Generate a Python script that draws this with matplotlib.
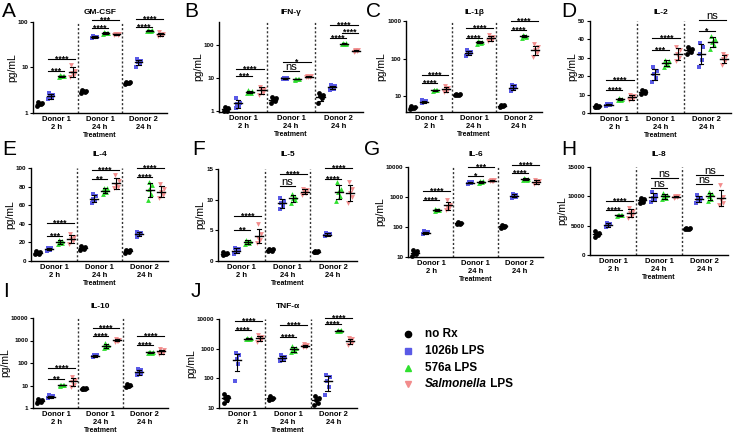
import numpy as np
import matplotlib
matplotlib.use('Agg')
import matplotlib.pyplot as plt
from matplotlib.ticker import NullLocator

plt.rcParams['font.family'] = ['Liberation Sans', 'DejaVu Sans']

# ---------------------------------------------------------------------------
# data: 12 conditions per panel, order = group (D1 2h, D1 24h, D2 24h) x
# treatment (no Rx, 1026b, 576a, Salmonella); 5 replicates each
# ---------------------------------------------------------------------------
groups = ['Donor 1\n2 h', 'Donor 1\n24 h', 'Donor 2\n24 h']
treatments = ['no Rx', '1026b LPS', '576a LPS', 'Salmonella LPS']

gm_csf = [[1.45, 1.55, 1.6, 1.65, 1.75], [2.0, 2.2, 2.3, 2.5, 2.8], [6.3, 6.4, 6.5, 6.5, 6.7], [6.3, 6.8, 7.4, 8.5, 11.5],
          [2.8, 2.9, 3.0, 3.05, 3.2], [44, 46, 47, 48, 50], [54, 56, 57, 58, 60], [52, 53, 53.5, 54, 55],
          [4.3, 4.5, 4.6, 4.7, 4.9], [10.5, 12, 13, 14, 15.5], [63, 64, 65, 66, 67], [49, 51, 53, 55, 60]]
ifn_g = [[0.97, 1.0, 1.1, 1.2, 1.3], [1.2, 1.4, 1.6, 1.8, 2.5], [3.4, 3.6, 3.8, 4.0, 4.2], [3.0, 3.6, 4.2, 4.8, 5.5],
         [1.8, 2.0, 2.2, 2.4, 2.7], [9.3, 9.6, 9.8, 10.0, 10.3], [9.0, 9.2, 9.3, 9.4, 9.6], [10.5, 10.8, 11.0, 11.3, 11.8],
         [1.8, 2.4, 2.8, 3.1, 3.5], [4.3, 4.8, 5.2, 5.6, 6.0], [105, 108, 110, 112, 115], [63, 66, 68, 70, 73]]
il_1b = [[4.6, 4.8, 5.0, 5.2, 5.5], [6.5, 6.8, 7.0, 7.3, 7.8], [14, 14.3, 14.5, 14.7, 15], [13, 14, 15, 16.5, 18.5],
         [10.5, 10.8, 11, 11.2, 11.5], [120, 130, 140, 150, 165], [250, 260, 270, 280, 290], [290, 320, 350, 380, 420],
         [5.2, 5.4, 5.6, 5.8, 6.0], [14, 15.5, 17, 18.5, 20], [360, 375, 390, 405, 420], [110, 140, 170, 200, 240]]
il_2 = [[3.0, 3.3, 3.5, 3.8, 4.2], [4.0, 4.3, 4.5, 4.7, 5.0], [7.0, 7.3, 7.5, 7.7, 8.0], [7.0, 7.8, 8.5, 9.2, 10.0],
        [10.5, 11, 11.5, 12, 12.5], [17, 19, 21, 23, 25], [25, 26, 27, 28, 29], [28, 30, 32, 34, 36],
        [32, 33, 34, 35, 36], [25, 29, 32, 36, 38], [35, 37, 38.5, 40, 42], [26, 28, 29.5, 31, 32]]
il_4 = [[7, 8, 9, 10, 10.5], [11, 12, 13, 13.5, 14], [18, 19.5, 20.5, 21.5, 23], [18, 21, 23.5, 26, 28.5],
        [12, 13, 14, 15, 16], [62, 64.5, 67, 69.5, 72], [72, 74, 76, 78, 79], [78, 80, 82, 86, 93],
        [9, 10, 11, 11.5, 12], [26, 27.5, 29, 30, 31], [66, 72, 77, 82, 85], [68, 71, 74, 77, 83]]
il_5 = [[1.0, 1.1, 1.2, 1.3, 1.4], [1.2, 1.5, 1.7, 1.9, 2.2], [2.7, 2.9, 3.1, 3.3, 3.5], [3.0, 3.4, 3.8, 4.4, 6.0],
        [1.6, 1.7, 1.8, 1.9, 2.0], [8.5, 9.0, 9.4, 9.8, 10.3], [9.5, 9.9, 10.2, 10.5, 11.0], [10.8, 11.1, 11.3, 11.5, 11.8],
        [1.4, 1.45, 1.5, 1.6, 1.7], [4.0, 4.2, 4.3, 4.4, 4.6], [9.8, 10.6, 11.2, 11.8, 12.8], [9.5, 10.4, 11.1, 11.7, 12.8]]
il_6 = [[11, 12.5, 14, 15.5, 17], [58, 62, 65, 68, 72], [350, 360, 370, 380, 390], [380, 420, 480, 560, 800],
        [125, 130, 135, 140, 145], [2800, 2900, 3000, 3100, 3200], [3000, 3100, 3200, 3300, 3400], [3300, 3400, 3500, 3600, 3700],
        [95, 100, 105, 110, 115], [950, 1030, 1100, 1170, 1250], [3600, 3750, 3900, 4050, 4200], [2700, 2950, 3200, 3450, 3800]]
il_8 = [[3100, 3400, 3600, 3800, 4100], [4700, 4900, 5100, 5300, 5500], [6700, 6750, 6800, 6850, 6900], [6300, 6700, 7100, 7500, 8000],
        [8800, 9100, 9300, 9500, 9800], [9000, 9400, 9800, 10200, 10800], [9500, 9800, 10000, 10200, 10500], [9800, 9900, 9950, 10000, 10100],
        [4400, 4450, 4500, 4550, 4600], [8800, 9200, 9500, 9800, 10200], [9200, 9600, 10000, 10400, 10800], [8500, 8900, 9300, 9900, 12000]]
il_10 = [[1.7, 1.9, 2.1, 2.3, 2.6], [2.8, 3.0, 3.2, 3.4, 3.6], [10, 10.3, 10.5, 10.7, 11], [9, 11, 14, 18, 25],
         [6.8, 7.0, 7.3, 7.5, 7.8], [190, 200, 210, 220, 230], [450, 520, 580, 650, 750], [900, 950, 1000, 1070, 1150],
         [8.5, 9.2, 10, 10.7, 11.5], [28, 34, 40, 47, 55], [280, 290, 300, 310, 320], [250, 280, 320, 360, 420]]
tnf_a = [[15, 18, 21, 24, 30], [80, 300, 450, 600, 700], [2100, 2150, 2200, 2250, 2300], [1700, 2000, 2250, 2500, 2800],
         [19, 20, 21, 22, 25], [380, 420, 470, 530, 600], [750, 850, 950, 1050, 1200], [1100, 1180, 1250, 1320, 1400],
         [13, 15, 18, 21, 25], [28, 50, 80, 110, 130], [3800, 3900, 4000, 4100, 4200], [1300, 1550, 1800, 2050, 2300]]

# significance bars: (group, from treatment, to treatment, y, label)
gm_csf_sig = [(0, 1, 2, 8.4, '***'), (0, 1, 3, 15, '****'), (1, 1, 2, 75, '****'), (1, 1, 3, 109, '***'),
              (2, 1, 2, 78, '****'), (2, 1, 3, 114, '****')]
ifn_g_sig = [(0, 1, 2, 11.7, '***'), (0, 1, 3, 18.5, '****'), (1, 1, 2, 16.5, 'ns'), (1, 1, 3, 30, '*'),
             (2, 1, 2, 158, '****'), (2, 2, 3, 240, '****'), (2, 1, 3, 400, '****')]
il_1b_sig = [(0, 1, 2, 22.6, '****'), (0, 1, 3, 36, '****'), (1, 1, 2, 360, '****'), (1, 1, 3, 665, '****'),
             (2, 1, 2, 590, '****'), (2, 1, 3, 980, '****')]
il_2_sig = [(0, 1, 2, 12.7, '****'), (0, 1, 3, 18.1, '****'), (1, 1, 2, 34.4, '***'), (1, 1, 3, 41, '****'),
            (2, 1, 2, 44.6, '*'), (2, 1, 3, 50.7, 'ns')]
il_4_sig = [(0, 1, 2, 27, '***'), (0, 1, 3, 40.4, '****'), (1, 1, 2, 88, '**'), (1, 1, 3, 97.5, '****'),
            (2, 1, 2, 90, '****'), (2, 1, 3, 100, '****')]
il_5_sig = [(0, 1, 2, 5.05, '**'), (0, 1, 3, 7.3, '****'), (1, 1, 2, 12.2, 'ns'), (1, 1, 3, 14.2, '****'),
            (2, 1, 2, 13.3, '****'), (2, 1, 3, 15.1, '****')]
il_6_sig = [(0, 1, 2, 775, '****'), (0, 1, 3, 1550, '****'), (1, 1, 2, 5000, '*'), (1, 1, 3, 10000, '***'),
            (2, 1, 2, 6300, '****'), (2, 1, 3, 11400, '****')]
il_8_sig = [(0, 1, 2, 7640, '****'), (0, 1, 3, 9220, '****'), (1, 1, 2, 11430, 'ns'), (1, 1, 3, 13200, 'ns'),
            (2, 1, 2, 12170, 'ns'), (2, 1, 3, 13700, 'ns')]
il_10_sig = [(0, 1, 2, 18.6, '**'), (0, 1, 3, 58, '****'), (1, 1, 2, 1510, '****'), (1, 1, 3, 3560, '****'),
             (2, 1, 2, 640, '****'), (2, 1, 3, 1510, '****')]
tnf_a_sig = [(0, 1, 2, 4370, '****'), (0, 1, 3, 8800, '****'), (1, 1, 2, 2410, '****'), (1, 1, 3, 6440, '****'),
             (2, 1, 2, 6780, '****'), (2, 1, 3, 10800, '****')]

colors = ['black', '#5a5ae6', '#2fe02f', '#f28c8c']
markers = ['o', 's', '^', 'v']
jitter = [-0.2, 0.12, -0.05, 0.2, -0.12]

W, H = 733, 434
fig = plt.figure(figsize=(W / 100, H / 100), dpi=100)


def rect(l, t, r, b):
    return [l / W, 1 - b / H, (r - l) / W, (b - t) / H]


def draw_panel(box, letter, letter_xy, title, title_y, data, sig, log, ylim, yticks):
    ax = fig.add_axes(rect(*box))
    for g in range(3):
        for t in range(4):
            vals = np.array(data[g * 4 + t], dtype=float)
            xc = g * 4 + t
            ax.scatter(xc + np.array(jitter), vals, s=12, marker=markers[t],
                       color=colors[t], lw=0, zorder=3, clip_on=False)
            m = vals.mean()
            sd = vals.std(ddof=1)
            lo = m - sd
            if log:
                lo = max(lo, ylim[0])
            ax.plot([xc - 0.35, xc + 0.35], [m, m], color='black', lw=1, zorder=4)
            ax.plot([xc, xc], [lo, m + sd], color='black', lw=0.8, zorder=4)
            for yy in (lo, m + sd):
                ax.plot([xc - 0.2, xc + 0.2], [yy, yy], color='black', lw=0.8, zorder=4)

    for g, a, b, y, lab in sig:
        x0, x1 = g * 4 + a - 0.2, g * 4 + b + 0.2
        ax.plot([x0, x1], [y, y], color='black', lw=0.8, clip_on=False, zorder=5)
        if lab == 'ns':
            ax.annotate(lab, xy=((x0 + x1) / 2, y), xytext=(0, 0.6), textcoords='offset points',
                        ha='center', va='baseline', fontsize=8, annotation_clip=False)
        else:
            ax.annotate(lab, xy=((x0 + x1) / 2, y), xytext=(0, -1.8), textcoords='offset points',
                        ha='center', va='baseline', fontsize=6.2, fontweight='bold', annotation_clip=False)

    for xs in (3.5, 7.5):
        ax.axvline(xs, color='0.2', ls=(0, (1.5, 1.5)), lw=1, zorder=1)

    if log:
        ax.set_yscale('log')
    ax.set_ylim(*ylim)
    ax.set_yticks(yticks)
    ax.set_yticklabels([str(v) for v in yticks], fontsize=4.5, fontweight='bold')
    ax.yaxis.set_minor_locator(NullLocator())
    ax.set_xlim(-0.6, 11.6)
    ax.set_xticks([1.5, 5.5, 9.5])
    ax.set_xticklabels(groups, fontsize=5.5, fontweight='bold', linespacing=1.2)
    ax.tick_params(axis='x', length=0, pad=2)
    ax.tick_params(axis='y', length=2.5, width=0.8, pad=1)
    ax.set_xlabel('Treatment', fontsize=5, fontweight='bold', labelpad=1)
    ax.set_ylabel('pg/mL', fontsize=7.5, labelpad=0.5)
    for s in ('top', 'right'):
        ax.spines[s].set_visible(False)
    for s in ('left', 'bottom'):
        ax.spines[s].set_linewidth(1)

    cx = (box[0] + box[2]) / 2
    fig.text(cx / W, 1 - title_y / H, title, ha='center', va='center', fontsize=6, fontweight='bold')
    fig.text(letter_xy[0] / W, 1 - letter_xy[1] / H, letter, ha='left', va='top', fontsize=15)
    return ax


draw_panel((33, 22, 167, 113), 'A', (2, 2), 'GM-CSF', 12, gm_csf, gm_csf_sig, True, (1, 100), [1, 10, 100])
draw_panel((219, 22, 363, 112), 'B', (184, 2), 'IFN-γ', 13, ifn_g, ifn_g_sig, True, (0.93, 500), [1, 10, 100])
draw_panel((406, 21, 542, 112), 'C', (366, 2), 'IL-1β', 13, il_1b, il_1b_sig, True, (3.8, 1000), [10, 100, 1000])
draw_panel((590, 21, 731, 113), 'D', (561, 2), 'IL-2', 12, il_2, il_2_sig, False, (0, 50), [0, 10, 20, 30, 40, 50])
draw_panel((31, 168, 168, 261), 'E', (2, 140), 'IL-4', 155, il_4, il_4_sig, False, (0, 100), [0, 20, 40, 60, 80, 100])
draw_panel((218, 169, 357, 261), 'F', (192, 140), 'IL-5', 155, il_5, il_5_sig, False, (0, 15), [0, 5, 10, 15])
draw_panel((408, 167, 543, 257), 'G', (364, 140), 'IL-6', 155, il_6, il_6_sig, True, (10, 10000), [10, 100, 1000, 10000])
draw_panel((590, 167, 728, 255), 'H', (561, 140), 'IL-8', 155, il_8, il_8_sig, False, (0, 15000), [0, 5000, 10000, 15000])
draw_panel((33, 318, 168, 408), 'I', (3, 282), 'IL-10', 306, il_10, il_10_sig, True, (1, 10000), [1, 10, 100, 1000, 10000])
draw_panel((219, 319, 357, 408), 'J', (191, 282), 'TNF-α', 307, tnf_a, tnf_a_sig, True, (10, 10000), [10, 100, 1000, 10000])

# legend drawn by hand so "Salmonella" can be italic
leg_y = [334, 351, 368, 384]
for t in range(4):
    fig.lines.append(plt.Line2D([408 / W], [1 - leg_y[t] / H], marker=markers[t], color=colors[t],
                                markersize=4.5, ls='none', transform=fig.transFigure))
for t in range(3):
    fig.text(425 / W, 1 - leg_y[t] / H, treatments[t], ha='left', va='center', fontsize=8.5, fontweight='bold')
it = fig.text(425 / W, 1 - leg_y[3] / H, 'Salmonella', ha='left', va='center', fontsize=8.5,
              fontweight='bold', style='italic')
renderer = fig.canvas.get_renderer()
bb = it.get_window_extent(renderer)
fig.text(bb.x1 / W, 1 - leg_y[3] / H, ' LPS', ha='left', va='center', fontsize=8.5, fontweight='bold')

fig.savefig('out.png', dpi=100)
